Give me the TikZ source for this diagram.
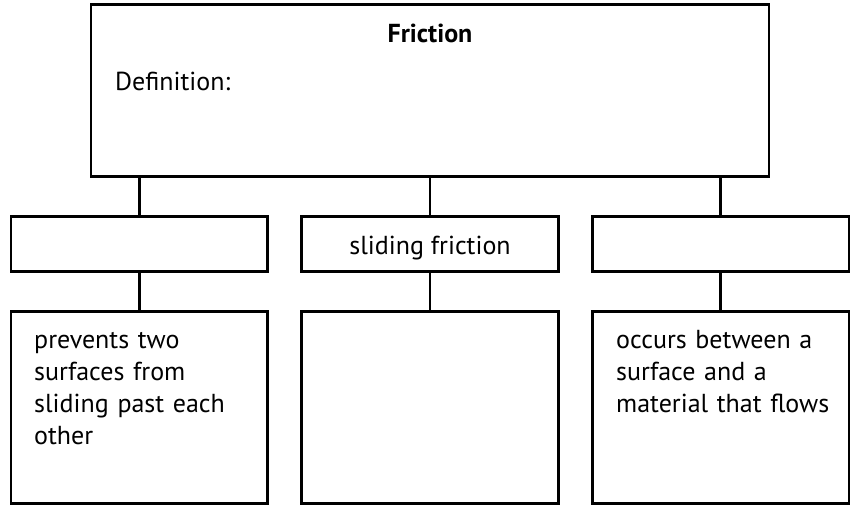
\documentclass[tikz,border=0pt]{standalone}
\usepackage{fontspec}
\setmainfont{PT Sans}
\usetikzlibrary{positioning}
\begin{document}
\begin{tikzpicture}[x=1pt,y=-1pt,
	box/.style={draw,line width=2.6pt,inner sep=0pt,minimum width=256.7pt},
	link/.style={line width=2.6pt},
	txt/.style={inner sep=0pt,font=\fontsize{26}{32}\selectfont}]
	\useasboundingbox (0,0) rectangle (856,506);
	% boxes
	\node [box,minimum width=678pt,minimum height=172pt] (friction) at (430,90.7) {};
	\node [box,minimum height=54.8pt] (kindA) at (139.3,244.1) {};
	\node [box,minimum height=54.8pt] (kindB) at (430,244.1) {};
	\node [box,minimum height=54.8pt] (kindC) at (720.7,244.1) {};
	\node [box,minimum height=191.6pt] (factA) at (139.3,407.5) {};
	\node [box,minimum height=191.6pt] (factB) at (430,407.5) {};
	\node [box,minimum height=191.6pt] (factC) at (720.7,407.5) {};
	% links
	\draw [link] (kindA.north) -- (kindA.north |- friction.south);
	\draw [link] (kindB.north) -- (kindB.north |- friction.south);
	\draw [link] (kindC.north) -- (kindC.north |- friction.south);
	\draw [link] (kindA.south) -- (factA.north);
	\draw [link] (kindB.south) -- (factB.north);
	\draw [link] (kindC.south) -- (factC.north);
	% texts
	\node [txt,anchor=base,font=\fontsize{26}{32}\selectfont\bfseries] (title) at (430,42) {Friction};
	\node [txt,anchor=base west] (deflabel) at (115,90) {Definition:};
	\node [txt,anchor=base] (sliding) at (430,254) {sliding friction};
	\node [txt,anchor=base west,text width=225pt,align=left] (staticText) at (34,348) {prevents two\\surfaces from\\sliding past each\\other};
	\node [txt,anchor=base west,text width=225pt,align=left] (fluidText) at (616,348) {occurs between a\\surface and a\\material that flows};
\end{tikzpicture}
\end{document}
